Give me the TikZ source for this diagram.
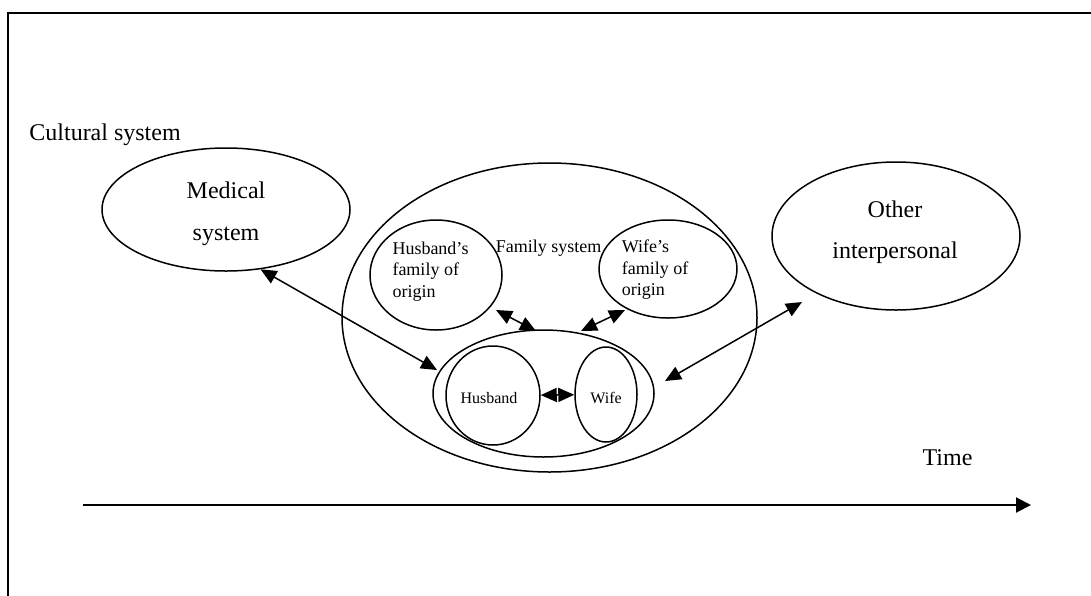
\documentclass[tikz,border=0pt]{standalone}
\usepackage{fontspec}
\setmainfont{Liberation Serif}
\usetikzlibrary{shapes.geometric,arrows.meta}

\begin{document}
\begin{tikzpicture}[
			x=0.5pt, y=-0.5pt,
			sysellipse/.style={ellipse, draw=black, line width=0.75pt, inner sep=0pt},
			bigtext/.style={font=\fontsize{12}{21}\selectfont, align=center},
			midtext/.style={font=\fontsize{9}{10.75}\selectfont, align=left},
			smalltext/.style={font=\fontsize{8}{9.6}\selectfont},
			biarrow/.style={{Triangle[length=8pt,width=7pt]}-{Triangle[length=8pt,width=7pt]}, line width=0.75pt}
	]
	
		\useasboundingbox (0,0) rectangle (1091,595);
		\draw [line width=1pt] (8,13) rectangle (1110,620);
		
		\node (cultural) [bigtext, anchor=base west, inner sep=0pt] at (29,140) {Cultural system};
		
		\node (medical) [sysellipse, minimum width=124pt, minimum height=61.5pt] at (226,209.5) {};
		\node (medicaltext) [bigtext] at (226,214) {Medical\\system};
		
		\node (other) [sysellipse, minimum width=124pt, minimum height=74pt] at (896,236) {};
		\node (othertext) [bigtext, font=\fontsize{12}{20.5}\selectfont] at (895,232) {Other\\interpersonal};
		
		\node (family) [sysellipse, minimum width=207.5pt, minimum height=154.5pt] at (549.5,317.5) {};
		\node (familytext) [midtext, anchor=base] at (548.5,252) {Family system};
		
		\node (hfam) [sysellipse, minimum width=66pt, minimum height=55pt] at (436,275) {};
		\node (hfamtext) [midtext] at (430.5,271.5) {Husband’s\\family of\\origin};
		\node (wfam) [sysellipse, minimum width=69pt, minimum height=49pt] at (668,269) {};
		\node (wfamtext) [midtext] at (655,270) {Wife’s\\family of\\origin};
		
		\node (couple) [sysellipse, minimum width=110.5pt, minimum height=63.5pt] at (543.5,393.5) {};
		\node (husband) [sysellipse, minimum width=47pt, minimum height=49.5pt] at (493,395.5) {};
		\node (husbandtext) [smalltext, anchor=base] at (489,403) {Husband};
		\node (wife) [sysellipse, minimum width=31pt, minimum height=47.5pt] at (606,394.5) {};
		\node (wifetext) [smalltext, anchor=base] at (606,403) {Wife};
		
		\coordinate (couplelinkw) at (437,370);
		\coordinate (hfamlink) at (496,310);
		\coordinate (couplelinkh) at (536,331);
		\coordinate (couplelinkf) at (581,331);
		\coordinate (wfamlink) at (625,310);
		\coordinate (otherlink) at (802,302);
		\coordinate (couplelinke) at (665,381);
		
		\draw [biarrow] (medical.-60) -- (couplelinkw);
		\draw [biarrow] (hfamlink) -- (couplelinkh);
		\draw [biarrow] (couplelinkf) -- (wfamlink);
		\draw [biarrow] (otherlink) -- (couplelinke);
		\draw [biarrow] (husband) -- (wife);
		
		\coordinate (timestart) at (83,505);
		\coordinate (timeend) at (1031,505);
		\draw [-{Triangle[length=7.5pt,width=7.5pt]}, line width=1pt] (timestart) -- (timeend);
		\node (timetext) [bigtext, anchor=base] at (947.5,465) {Time};
	\end{tikzpicture}
\end{document}
